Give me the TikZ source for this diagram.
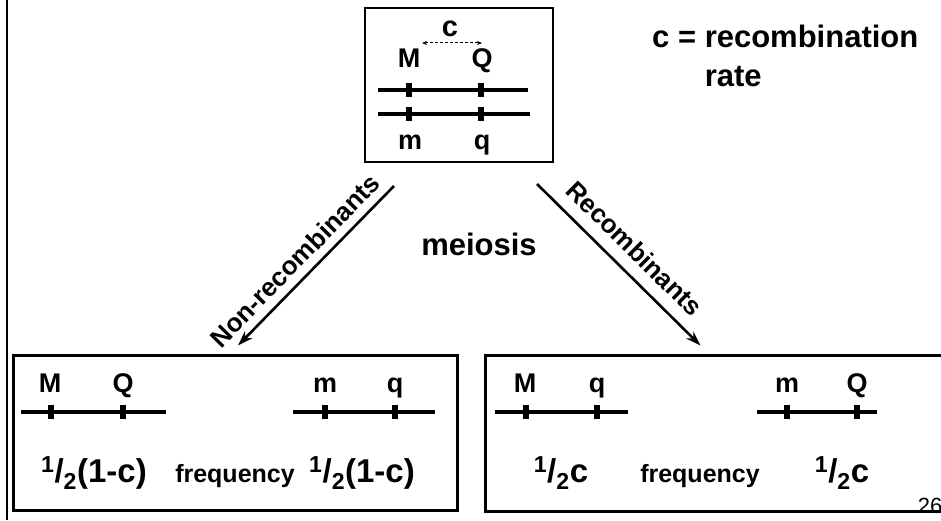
\documentclass[tikz,border=0pt]{standalone}
\usepackage{fontspec}
\setmainfont{Liberation Sans}
\usepackage{tikz}
\usetikzlibrary{positioning,arrows.meta,calc}
\tikzset{
  box/.style   ={draw=black, line width=3pt, inner sep=0pt},
  boxt/.style  ={draw=black, line width=2pt, inner sep=0pt},
  lbl/.style   ={font=\fontsize{27}{30}\selectfont\bfseries, inner sep=0pt,
                 anchor=base},
  big/.style   ={font=\fontsize{31}{39}\selectfont\bfseries, inner sep=0pt},
  frq/.style   ={font=\fontsize{33}{36}\selectfont\bfseries, inner sep=0pt,
                 anchor=base},
  side/.style  ={font=\fontsize{26}{28}\selectfont\bfseries, inner sep=0pt},
  chrom/.style ={line width=4pt},
  tick/.style  ={line width=6pt},
  ar/.style    ={-{Stealth[length=15pt,width=10pt]}, line width=2.6pt},
  dar/.style   ={{Stealth[length=5pt,width=4pt]}-{Stealth[length=5pt,width=4pt]},
                 densely dashed, line width=1pt}
}
\begin{document}
\begin{tikzpicture}[x=1pt,y=1pt]
\useasboundingbox (0,0) rectangle (941,520);
% scan edge on the left
\draw[line width=2pt] (7,0) -- (7,520);

% parent
\node[boxt, minimum width=188pt, minimum height=154pt] (parent) at (459,435) {};
\node[big, font=\fontsize{29}{30}\selectfont\bfseries, anchor=base] (c) at (450,483) {c};
\coordinate (cl) at (422,477);
\coordinate (cr) at (482,477);
\draw[dar] (cl) -- (cr);
\node[lbl] (pM) at (409,452) {M};
\node[lbl] (pQ) at (482,452) {Q};
\draw[chrom] (378,430) -- (528,430);
\draw[chrom] (378,406) -- (530,406);
\draw[tick] (409,423) -- (409,437);
\draw[tick] (481,423) -- (481,437);
\draw[tick] (409,399) -- (409,413);
\draw[tick] (481,399) -- (481,413);
\node[lbl] (pm) at (410,370) {m};
\node[lbl] (pq) at (482,370) {q};

\node[big, anchor=north west, align=left] (legend) at (652,495)
  {c = recombination\\ \phantom{c = }rate};
\node[big, anchor=base] (meiosis) at (479,265) {meiosis};

% gametes
\node[font=\fontsize{22}{24}\selectfont, inner sep=0pt] (page) at (930,14) {26};
\node[box, minimum width=444pt, minimum height=155pt] (nonrec) at (235,87.5) {};
\node[box, minimum width=457pt, minimum height=156pt] (rec) at (713.5,87) {};

\draw[ar] ([shift={(30,-23)}]parent.south west) --
  node[side, sloped, above=8pt, pos=0.55] {Non-recombinants} ([shift={(3,8)}]nonrec.north);
\draw[ar] ([shift={(-17,-21)}]parent.south east) --
  node[side, sloped, above=12pt, pos=0.5] {Recombinants} ([shift={(-13,8)}]rec.north);

% non-recombinant gametes
\node[lbl] (nM) at (50,128) {M};
\node[lbl] (nQ) at (123,128) {Q};
\draw[chrom] (21,108) -- (166,108);
\draw[tick] (51,101) -- (51,115);
\draw[tick] (123,101) -- (123,115);
\node[lbl] (nm) at (325,128) {m};
\node[lbl] (nq) at (395,128) {q};
\draw[chrom] (293,108) -- (435,108);
\draw[tick] (325,101) -- (325,115);
\draw[tick] (395,101) -- (395,115);
\node[frq] (nf1) at (94,38) {\textsuperscript{1}/\textsubscript{2}(1-c)};
\node[lbl, font=\fontsize{25}{27}\selectfont\bfseries] (nfr) at (235,38) {frequency};
\node[frq] (nf2) at (362,38) {\textsuperscript{1}/\textsubscript{2}(1-c)};

% recombinant gametes
\node[lbl] (rM) at (525,128) {M};
\node[lbl] (rq) at (597,128) {q};
\draw[chrom] (495,108) -- (628,108);
\draw[tick] (526,101) -- (526,115);
\draw[tick] (597,101) -- (597,115);
\node[lbl] (rm) at (787,128) {m};
\node[lbl] (rQ) at (857,128) {Q};
\draw[chrom] (757,108) -- (877,108);
\draw[tick] (787,101) -- (787,115);
\draw[tick] (857,101) -- (857,115);
\node[frq] (rf1) at (561,38) {\textsuperscript{1}/\textsubscript{2}c};
\node[lbl, font=\fontsize{25}{27}\selectfont\bfseries] (rfr) at (700,38) {frequency};
\node[frq] (rf2) at (842,38) {\textsuperscript{1}/\textsubscript{2}c};
\end{tikzpicture}
\end{document}
